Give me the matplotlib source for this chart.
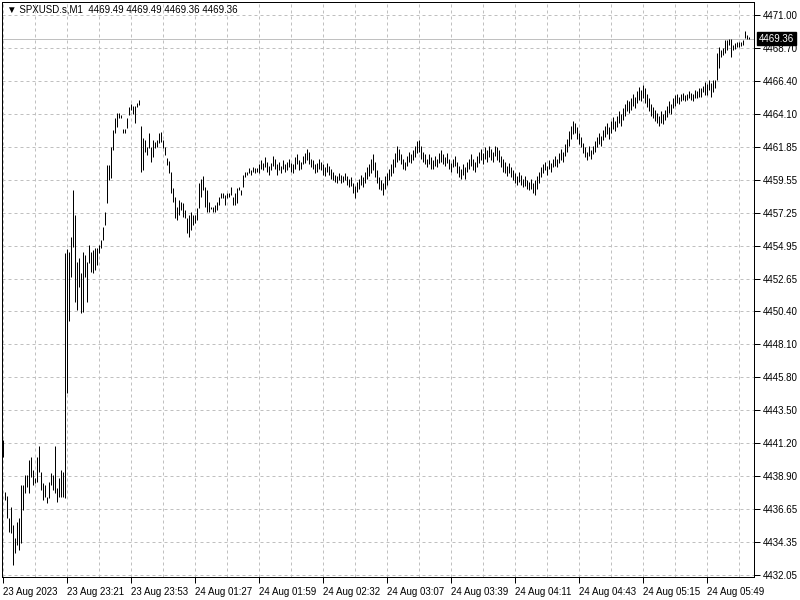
import matplotlib
matplotlib.use("Agg")
import matplotlib.pyplot as plt
from matplotlib.transforms import blended_transform_factory
import numpy as np

plt.rcParams["font.family"] = ["Liberation Sans", "DejaVu Sans"]

header_text = "\u25BC SPXUSD.s,M1  4469.49 4469.49 4469.36 4469.36"
last_price = 4469.36

y_ticks = [4471.00, 4468.70, 4466.40, 4464.10, 4461.85, 4459.55, 4457.25, 4454.95,
           4452.65, 4450.40, 4448.10, 4445.80, 4443.50, 4441.20, 4438.90, 4436.65,
           4434.35, 4432.05]

x_labels = ["23 Aug 2023", "23 Aug 23:21", "23 Aug 23:53", "24 Aug 01:27",
            "24 Aug 01:59", "24 Aug 02:32", "24 Aug 03:07", "24 Aug 03:39",
            "24 Aug 04:11", "24 Aug 04:43", "24 Aug 05:15", "24 Aug 05:49"]
bars_per_label = 32

highs = [
    # 0-9
    4441.44, 4437.82, 4437.54, 4436.01, 4436.78, 4435.53, 4434.62, 4435.73, 4436.01, 4438.31,
    # 10-19
    4438.31, 4439.00, 4439.00, 4440.05, 4440.26, 4439.35, 4438.80, 4440.26, 4441.02, 4439.21,
    # 20-29
    4438.45, 4438.31, 4437.47, 4438.52, 4439.14, 4439.00, 4441.02, 4438.10, 4438.80, 4439.35,
    # 30-39
    4439.21, 4454.46, 4454.72, 4454.53, 4455.58, 4458.83, 4457.09, 4453.84, 4454.10, 4453.05,
    # 40-49
    4454.51, 4454.30, 4453.82, 4455.00, 4454.51, 4454.65, 4454.79, 4454.79, 4455.00, 4455.35,
    # 50-59
    4456.25, 4457.30, 4460.56, 4460.56, 4461.82, 4463.00, 4463.83, 4464.18, 4464.18, 4464.04,
    # 60-69
    4463.07, 4463.07, 4463.83, 4464.60, 4464.81, 4464.67, 4464.67, 4464.88, 4465.08, 4463.28,
    # 70-79
    4462.44, 4462.30, 4461.84, 4462.81, 4461.84, 4462.30, 4462.18, 4462.30, 4462.81, 4462.88,
    # 80-89
    4462.30, 4461.84, 4461.05, 4460.86, 4460.10, 4458.96, 4458.36, 4457.66, 4458.13, 4458.01,
    # 90-99
    4457.92, 4457.43, 4456.88, 4457.09, 4457.30, 4457.09, 4457.09, 4457.57, 4459.31, 4459.59,
    # 100-109
    4459.80, 4459.06, 4458.83, 4458.01, 4457.66, 4457.66, 4457.78, 4458.01, 4458.36, 4458.60,
    # 110-119
    4458.60, 4458.48, 4458.60, 4458.60, 4459.06, 4458.36, 4458.60, 4458.94, 4459.06, 4458.83,
    # 120-129
    4459.87, 4460.10, 4460.10, 4460.33, 4460.22, 4460.45, 4460.33, 4460.33, 4460.6, 4460.9,
    # 130-139
    4460.7, 4461.1, 4460.8, 4460.5, 4460.7, 4461.2, 4461.0, 4460.6, 4460.8, 4460.5,
    # 140-149
    4460.9, 4460.6, 4460.8, 4461.0, 4460.7, 4460.6, 4461.1, 4461.3, 4460.9, 4460.8,
    # 150-159
    4461.2, 4461.4, 4461.7, 4461.5, 4461.0, 4460.9, 4460.6, 4460.7, 4461.0, 4460.8,
    # 160-169
    4460.6, 4460.4, 4460.7, 4460.5, 4460.3, 4460.1, 4459.9, 4459.8, 4460.0, 4459.9,
    # 170-179
    4459.8, 4460.0, 4459.8, 4459.6, 4459.7, 4459.3, 4459.1, 4459.4, 4459.6, 4459.9,
    # 180-189
    4459.7, 4460.1, 4460.4, 4460.6, 4461.0, 4461.3, 4460.8, 4460.2, 4459.7, 4459.5,
    # 190-199
    4459.3, 4459.8, 4460.0, 4460.3, 4460.6, 4461.0, 4461.4, 4461.9, 4461.7, 4461.3,
    # 200-209
    4461.0, 4460.8, 4461.2, 4461.5, 4461.3, 4461.6, 4461.9, 4462.2, 4462.3, 4461.9,
    # 210-219
    4461.5, 4461.3, 4461.0, 4461.3, 4461.1, 4460.9, 4461.2, 4461.0, 4461.4, 4461.6,
    # 220-229
    4461.3, 4461.1, 4461.4, 4461.0, 4460.7, 4461.0, 4461.2, 4460.8, 4460.5, 4460.3,
    # 230-239
    4460.6, 4460.4, 4460.8, 4461.0, 4461.3, 4461.0, 4460.8, 4461.2, 4461.5, 4461.7,
    # 240-249
    4461.4, 4461.8, 4461.6, 4461.9, 4461.7, 4461.5, 4461.9, 4461.8, 4461.6, 4461.2,
    # 250-259
    4461.0, 4460.8, 4460.5, 4460.7, 4460.4, 4460.2, 4460.0, 4459.8, 4460.1, 4459.9,
    # 260-269
    4459.6, 4459.8, 4459.5, 4459.4, 4459.6, 4459.3, 4459.5, 4459.8, 4460.1, 4460.4,
    # 270-279
    4460.6, 4460.8, 4460.5, 4460.9, 4460.7, 4461.0, 4461.2, 4461.0, 4461.4, 4461.7,
    # 280-289
    4461.5, 4462.0, 4462.4, 4462.9, 4463.3, 4463.6, 4463.5, 4463.2, 4462.8, 4462.5,
    # 290-299
    4462.1, 4461.8, 4461.5, 4461.9, 4461.6, 4461.9, 4462.2, 4462.5, 4462.8, 4462.6,
    # 300-309
    4463.0, 4463.3, 4463.5, 4463.2, 4463.6, 4463.9, 4463.6, 4464.0, 4464.3, 4464.1,
    # 310-319
    4464.5, 4464.8, 4465.1, 4465.0, 4465.2, 4465.5, 4465.3, 4465.7, 4466.0, 4465.8,
    # 320-329
    4466.1, 4465.9, 4465.5, 4465.2, 4464.8, 4464.6, 4464.4, 4464.2, 4464.0, 4464.3,
    # 330-339
    4464.1, 4464.4, 4464.7, 4465.0, 4464.8, 4465.2, 4465.4, 4465.5, 4465.3, 4465.5,
    # 340-349
    4465.6, 4465.4, 4465.5, 4465.7, 4465.6, 4465.5, 4465.8, 4465.7, 4465.9, 4465.92,
    # 350-359
    4466.06, 4466.34, 4466.20, 4466.48, 4466.27, 4466.48, 4466.48, 4468.35, 4468.77, 4468.56,
    # 360-369
    4468.70, 4469.26, 4469.26, 4469.33, 4469.33, 4468.91, 4469.05, 4469.12, 4469.12, 4469.12,
    # 370-373
    4469.26, 4469.88, 4469.61, 4469.49,
]

lows = [
    # 0-9
    4440.26, 4437.26, 4436.01, 4435.04, 4434.97, 4432.74, 4433.58, 4434.14, 4433.79, 4434.27,
    # 10-19
    4436.57, 4437.75, 4438.17, 4437.75, 4438.86, 4438.31, 4438.45, 4438.52, 4439.21, 4437.96,
    # 20-29
    4437.26, 4437.47, 4437.06, 4437.40, 4438.31, 4437.96, 4437.75, 4437.13, 4437.47, 4437.47,
    # 30-39
    4437.47, 4437.40, 4444.71, 4449.71, 4452.80, 4454.88, 4451.04, 4450.48, 4452.08, 4450.27,
    # 40-49
    4450.34, 4452.77, 4451.04, 4453.75, 4453.12, 4453.05, 4453.26, 4453.61, 4454.44, 4454.79,
    # 50-59
    4455.35, 4456.39, 4457.92, 4459.52, 4459.66, 4461.61, 4462.79, 4463.21, 4463.83, 4463.83,
    # 60-69
    4462.79, 4462.79, 4463.14, 4464.04, 4464.39, 4464.11, 4463.51, 4464.60, 4464.74, 4460.10,
    # 70-79
    4460.22, 4461.49, 4461.26, 4461.75, 4460.79, 4461.14, 4461.75, 4461.84, 4462.09, 4462.18,
    # 80-89
    4461.75, 4461.26, 4460.56, 4459.99, 4458.62, 4458.01, 4456.88, 4456.74, 4457.09, 4457.43,
    # 90-99
    4456.97, 4456.88, 4455.83, 4455.58, 4456.04, 4456.39, 4456.53, 4456.74, 4457.57, 4458.34,
    # 100-109
    4458.83, 4457.66, 4457.31, 4457.31, 4457.50, 4457.31, 4457.31, 4457.43, 4457.78, 4458.25,
    # 110-119
    4458.25, 4457.78, 4458.25, 4458.36, 4458.48, 4457.78, 4457.78, 4457.90, 4458.83, 4458.48,
    # 120-129
    4459.06, 4459.75, 4459.87, 4459.99, 4459.87, 4460.10, 4459.99, 4460.10, 4460.0, 4460.3,
    # 130-139
    4460.2, 4460.4, 4460.1, 4459.9, 4460.2, 4460.5, 4460.3, 4459.9, 4460.2, 4460.0,
    # 140-149
    4460.3, 4460.1, 4460.2, 4460.4, 4460.1, 4460.0, 4460.3, 4460.6, 4460.2, 4460.3,
    # 150-159
    4460.6, 4460.7, 4460.9, 4460.6, 4460.4, 4460.3, 4460.0, 4460.1, 4460.3, 4460.2,
    # 160-169
    4459.9, 4459.8, 4460.1, 4459.9, 4459.6, 4459.5, 4459.4, 4459.3, 4459.5, 4459.3,
    # 170-179
    4459.4, 4459.5, 4459.2, 4459.0, 4459.1, 4458.6, 4458.3, 4458.7, 4458.9, 4459.2,
    # 180-189
    4459.0, 4459.3, 4459.6, 4459.8, 4460.0, 4460.2, 4459.7, 4459.3, 4458.9, 4458.8,
    # 190-199
    4458.5, 4458.9, 4459.2, 4459.5, 4459.8, 4460.0, 4460.4, 4460.8, 4460.9, 4460.6,
    # 200-209
    4460.3, 4460.2, 4460.5, 4460.8, 4460.7, 4460.9, 4461.1, 4461.4, 4461.5, 4461.0,
    # 210-219
    4460.8, 4460.6, 4460.4, 4460.6, 4460.3, 4460.3, 4460.5, 4460.4, 4460.7, 4460.8,
    # 220-229
    4460.6, 4460.5, 4460.7, 4460.3, 4460.1, 4460.4, 4460.5, 4460.0, 4459.7, 4459.6,
    # 230-239
    4459.9, 4459.6, 4460.1, 4460.3, 4460.5, 4460.2, 4460.1, 4460.4, 4460.7, 4460.9,
    # 240-249
    4460.6, 4461.0, 4460.8, 4461.1, 4460.9, 4460.8, 4461.2, 4460.9, 4460.8, 4460.4,
    # 250-259
    4460.1, 4460.0, 4459.8, 4460.0, 4459.7, 4459.5, 4459.3, 4459.2, 4459.4, 4459.2,
    # 260-269
    4459.0, 4459.1, 4458.9, 4458.8, 4458.9, 4458.6, 4458.5, 4458.9, 4459.3, 4459.7,
    # 270-279
    4460.0, 4460.2, 4459.9, 4460.3, 4460.1, 4460.4, 4460.5, 4460.4, 4460.7, 4460.9,
    # 280-289
    4460.8, 4461.2, 4461.5, 4461.9, 4462.4, 4462.7, 4462.8, 4462.4, 4462.0, 4461.8,
    # 290-299
    4461.4, 4461.1, 4460.9, 4461.2, 4461.0, 4461.3, 4461.5, 4461.8, 4462.0, 4461.9,
    # 300-309
    4462.3, 4462.5, 4462.7, 4462.4, 4462.8, 4463.1, 4462.9, 4463.2, 4463.5, 4463.3,
    # 310-319
    4463.7, 4464.0, 4464.3, 4464.2, 4464.4, 4464.7, 4464.5, 4464.9, 4465.1, 4465.0,
    # 320-329
    4465.2, 4464.9, 4464.6, 4464.3, 4464.0, 4463.8, 4463.6, 4463.5, 4463.3, 4463.5,
    # 330-339
    4463.4, 4463.7, 4463.9, 4464.2, 4464.1, 4464.5, 4464.7, 4464.9, 4464.8, 4465.0,
    # 340-349
    4465.1, 4465.0, 4465.1, 4465.2, 4465.1, 4465.0, 4465.2, 4465.2, 4465.3, 4465.29,
    # 350-359
    4465.64, 4465.43, 4465.43, 4465.78, 4465.29, 4465.64, 4465.92, 4466.48, 4467.31, 4468.08,
    # 360-369
    4468.21, 4468.35, 4468.56, 4468.91, 4468.08, 4468.56, 4468.63, 4468.77, 4468.77, 4468.84,
    # 370-373
    4468.91, 4469.40, 4469.33, 4469.36,
]

n = min(len(highs), len(lows))
idx = np.arange(n)

W, H = 800, 600
fig = plt.figure(figsize=(W / 100, H / 100), dpi=100)
fig.patch.set_facecolor("white")
ax = fig.add_axes([2 / W, 23 / H, 752 / W, 575 / H])
ax.set_facecolor("white")

ax.set_xlim(-0.65, n + 1.35)
ax.set_ylim(4431.91, 4471.90)

grid_color = "#c0c0c0"
dash = (0, (3, 3))
for v in y_ticks:
    ax.axhline(v, color=grid_color, lw=0.72, ls=dash, zorder=0)
for i in range(0, n, bars_per_label // 2):
    ax.axvline(i, color=grid_color, lw=0.72, ls=dash, zorder=0)

ax.axhline(last_price, color="#c0c0c0", lw=0.72, zorder=1)

ax.vlines(idx, lows[:n], highs[:n], colors="black", linewidth=0.72,
          snap=True, zorder=3)

# right y axis
ax.yaxis.tick_right()
ax.set_yticks(y_ticks)
ax.set_yticklabels([f"{v:.2f}" for v in y_ticks])
ax.tick_params(axis="y", direction="out", length=4, width=0.72, pad=2,
               labelsize=7, colors="black")

# x axis
xpos = [i * bars_per_label for i in range(len(x_labels))]
ax.set_xticks(xpos)
ax.set_xticklabels(x_labels)
ax.tick_params(axis="x", direction="out", length=4, width=0.72, pad=3,
               labelsize=7, colors="black")
for lbl in ax.get_xticklabels():
    lbl.set_horizontalalignment("left")

for sp in ax.spines.values():
    sp.set_color("black")
    sp.set_linewidth(0.72)

# current price label
trans = blended_transform_factory(ax.transAxes, ax.transData)
ax.text(1.006, last_price, f"{last_price:.2f}", transform=trans, color="white",
        fontsize=7, va="center", ha="left", zorder=10, clip_on=False,
        bbox=dict(boxstyle="square,pad=0.2", fc="black", ec="black"))

fig.text(7 / W, 1 - 10 / H, header_text, fontsize=7, va="center", ha="left",
         color="black", family=["DejaVu Sans"] if False else None)

fig.savefig("out.png", dpi=100, facecolor="white")
